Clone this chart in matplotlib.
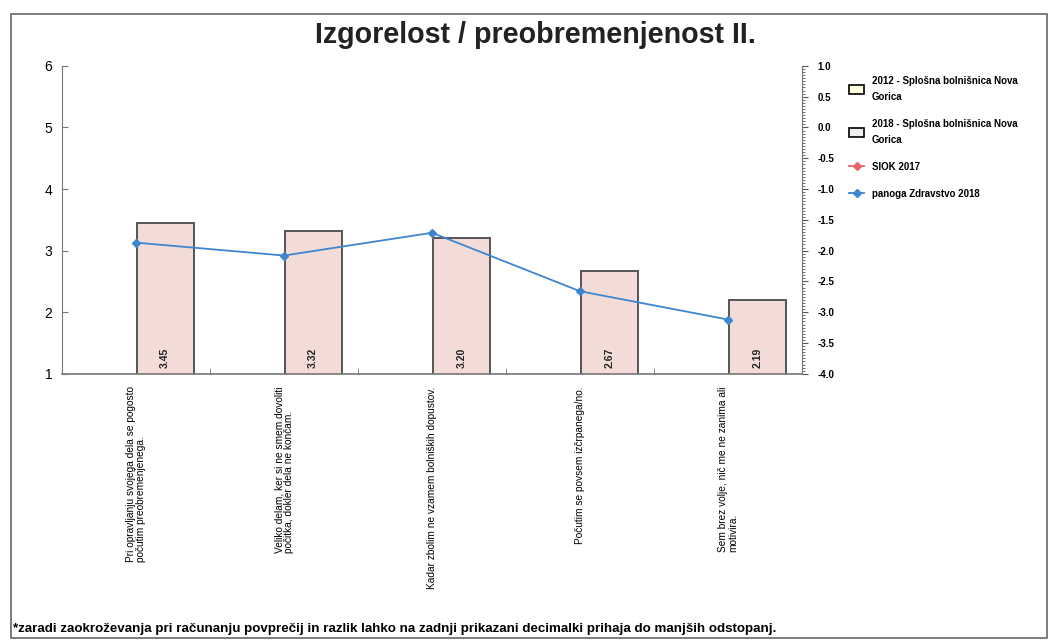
import numpy as np
import matplotlib.pyplot as plt
from matplotlib.patches import Rectangle, Patch
from matplotlib.lines import Line2D
from matplotlib.ticker import MultipleLocator

plt.rcParams['font.family'] = ['Liberation Sans', 'DejaVu Sans']

categories = [
    "Pri opravljanju svojega dela se pogosto\npočutim preobremenjenega.",
    "Veliko delam, ker si ne smem dovoliti\npočitka, dokler dela ne končam.",
    "Kadar zbolim ne vzamem bolniških dopustov.",
    "Počutim se povsem izčrpanega/no.",
    "Sem brez volje, nič me ne zanima ali\nmotivira.",
]
vals_2012 = [np.nan, np.nan, np.nan, np.nan, np.nan]
vals_2018 = [3.45, 3.32, 3.20, 2.67, 2.19]
siok_2017 = [np.nan, np.nan, np.nan, np.nan, np.nan]
panoga_2018 = [3.13, 2.92, 3.29, 2.34, 1.88]

title = "Izgorelost / preobremenjenost II."
footnote = ("*zaradi zaokroževanja pri računanju povprečij in razlik lahko na zadnji "
            "prikazani decimalki prihaja do manjših odstopanj.")

bar_fill = "#f3dcd7"
bar_edge = "#555555"
blue = "#3f86d0"
red = "#e8636b"

fig = plt.figure(figsize=(10.5, 6.4), dpi=100)
ax = fig.add_axes([0.059, 0.416, 0.705, 0.481])
x = np.arange(len(categories))
w = 0.385

ax.bar(x - w / 2, vals_2012, w, color="#ffffdd", edgecolor=bar_edge, lw=1.4)
ax.bar(x + w / 2 + 0.005, vals_2018, w, color=bar_fill, edgecolor=bar_edge, lw=1.4)
for xi, v in zip(x, vals_2018):
    ax.text(xi + w / 2 + 0.005, 1.1, "%.2f" % v, rotation=90, ha="center", va="bottom",
            fontsize=7.5, fontweight="bold", color="#222222")

ax.plot(x, siok_2017, color=red, marker="D", ms=4, lw=1.3)
ax.plot(x, panoga_2018, color=blue, marker="D", ms=4, lw=1.3)

ax.set_xlim(-0.5, len(categories) - 0.5)
ax.set_ylim(1, 6)
ax.set_yticks([1, 2, 3, 4, 5, 6])
ax.tick_params(axis="y", direction="in", length=4, color="#777777", labelsize=10, pad=7)
ax.set_xticks(x)
ax.set_xticklabels(categories, rotation=90, ha="center", va="top", fontsize=7.3,
                   linespacing=1.0, multialignment="left")
ax.tick_params(axis="x", length=0, pad=9)
ax.set_xticks(np.arange(len(categories) + 1) - 0.5, minor=True)
ax.tick_params(axis="x", which="minor", direction="in", length=4, color="#777777")
for s in ["top", "right"]:
    ax.spines[s].set_visible(False)
ax.spines["left"].set_color("#777777")
ax.spines["bottom"].set_color("#777777")
ax.spines["bottom"].set_linewidth(1.2)

ax2 = ax.twinx()
ax2.set_ylim(-4, 1)
rticks = np.arange(-4, 1.01, 0.5)
ax2.set_yticks(rticks)
ax2.set_yticklabels(["%.1f" % t for t in rticks])
ax2.yaxis.set_minor_locator(MultipleLocator(0.05))
ax2.tick_params(axis="y", which="major", direction="out", length=4, color="#555555",
                labelsize=7, pad=7)
ax2.tick_params(axis="y", which="minor", direction="out", length=2.5, color="#555555")
for lab in ax2.get_yticklabels():
    lab.set_fontweight("bold")
for s in ["top", "left", "bottom"]:
    ax2.spines[s].set_visible(False)
ax2.spines["right"].set_color("#777777")

fig.text(0.51, 0.946, title, ha="center", va="center", fontsize=20.6, fontweight="bold",
         color="#222222")
fig.text(0.012, 0.017, footnote, ha="left", va="center", fontsize=9.6, fontweight="bold")

handles = [
    Patch(facecolor="#ffffdd", edgecolor="black", lw=1.2),
    Patch(facecolor="#eeeeee", edgecolor="black", lw=1.2),
    Line2D([], [], color=red, marker="D", ms=4, lw=1.3),
    Line2D([], [], color=blue, marker="D", ms=4, lw=1.3),
]
labels = [
    "2012 - Splošna bolnišnica Nova\nGorica",
    "2018 - Splošna bolnišnica Nova\nGorica",
    "SIOK 2017",
    "panoga Zdravstvo 2018",
]
leg = fig.legend(handles, labels, loc="upper left", bbox_to_anchor=(0.8, 0.895),
                 frameon=False, prop={"size": 7, "weight": "bold"},
                 handlelength=1.6, handleheight=1.0, labelspacing=1.75)
for t in leg.get_texts():
    t.set_linespacing(1.75)

fig.patches.append(Rectangle((0.01, 0.003), 0.987, 0.975, transform=fig.transFigure,
                             fill=False, edgecolor="#666666", lw=1.2))

fig.savefig("out.png", dpi=100)
